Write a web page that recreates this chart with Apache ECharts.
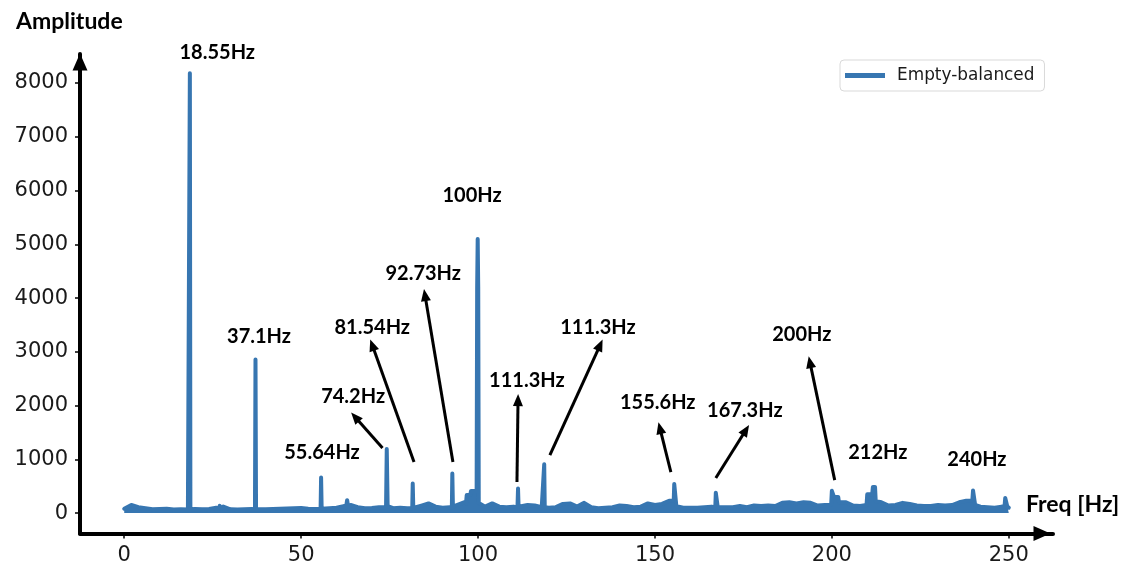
<!DOCTYPE html>
<html>
<head>
<meta charset="utf-8">
<script src="https://cdn.jsdelivr.net/npm/echarts@6/dist/echarts.min.js"></script>
<style>
  html, body { margin: 0; padding: 0; background: #fff; }
  #chart { width: 1121px; height: 570px; }
</style>
</head>
<body>
<div id="chart"></div>
<script>
// Spectrum of the empty, balanced rig: broadband floor sampled every 2 Hz from 0 Hz
const noiseStartHz = 0;
const noiseStepHz = 2;
const noiseFloor = [
  80, 150, 110, 90, 70, 75, 80, 65, 70, 65,
  75, 70, 75, 100, 120, 70, 65, 70, 75, 70,
  70, 75, 80, 85, 90, 95, 80, 75, 80, 90,
  100, 130, 150, 110, 90, 95, 110, 120, 90, 100,
  90, 95, 140, 180, 120, 100, 110, 150, 200, 280,
  200, 120, 180, 120, 110, 120, 130, 150, 140, 110,
  100, 110, 170, 180, 120, 190, 110, 90, 100, 110,
  140, 130, 110, 120, 180, 150, 170, 230, 130, 100,
  100, 100, 110, 120, 120, 110, 110, 130, 110, 140,
  130, 140, 130, 190, 200, 180, 200, 190, 140, 150,
  200, 280, 200, 140, 130, 200, 250, 200, 140, 150,
  190, 170, 140, 130, 130, 150, 140, 150, 200, 230,
  150, 120, 110, 100, 120, 100
];

// Narrow spectral lines, each as [freq Hz, amplitude] points
const peakShapes = [
  [[26.8, 90], [27.0, 134], [27.4, 134], [27.6, 80]],
  [[18.4, 70], [18.55, 8180], [18.7, 70]],
  [[36.95, 70], [37.1, 2856], [37.25, 75]],
  [[55.5, 80], [55.64, 660], [55.8, 80]],
  [[62.7, 110], [63.0, 240], [63.3, 120]],
  [[74.0, 110], [74.2, 1190], [74.45, 130]],
  [[81.4, 90], [81.54, 550], [81.7, 95]],
  [[92.6, 110], [92.73, 735], [92.9, 120]],
  [[96.6, 180], [96.8, 335], [97.8, 335], [98.0, 410], [99.6, 410], [99.75, 4200], [99.9, 5100], [100.05, 4200], [100.2, 190]],
  [[111.15, 110], [111.3, 455], [111.45, 120]],
  [[118.55, 100], [118.7, 908], [118.85, 110]],
  [[154.0, 230], [155.3, 230], [155.45, 540], [155.9, 540], [156.05, 130]],
  [[167.05, 110], [167.2, 380], [167.6, 380], [167.75, 110]],
  [[199.8, 150], [200.0, 413], [200.4, 413], [200.6, 300], [201.8, 300], [202.0, 200]],
  [[209.8, 150], [210.0, 350], [211.4, 350], [211.6, 487], [212.2, 487], [212.4, 220]],
  [[239.7, 230], [239.9, 420], [240.3, 420], [240.5, 150]],
  [[248.8, 120], [249.0, 280], [249.4, 280], [249.6, 120]]
];

// Peak labels placed in data space: [text, freq, amplitude]
const peakLabels = [
  ['18.55Hz', 26.3, 8150],
  ['37.1Hz', 38.1, 3293],
  ['55.64Hz', 55.9, 1135],
  ['74.2Hz', 64.7, 2177],
  ['81.54Hz', 70.1, 3442],
  ['92.73Hz', 84.5, 4447],
  ['100Hz', 98.3, 5916],
  ['111.3Hz', 113.8, 2474],
  ['111.3Hz', 133.9, 3460],
  ['155.6Hz', 150.8, 2047],
  ['167.3Hz', 175.4, 1916],
  ['200Hz', 191.5, 3312],
  ['212Hz', 213.0, 1135],
  ['240Hz', 241.0, 1005]
];

// Pointer arrows: [tail freq, tail amp, head freq, head amp]
const pointerArrows = [
  [73.0, 1209, 65.25, 1786],
  [81.9, 949, 70.1, 3126],
  [92.9, 949, 85.0, 4056],
  [111.0, 577, 111.3, 2102],
  [120.3, 1079, 134.5, 3126],
  [154.5, 763, 151.4, 1581],
  [167.2, 651, 175.7, 1544],
  [200.8, 614, 193.8, 2809]
];

const xTicks = [0, 50, 100, 150, 200, 250];
const yTicks = [0, 1000, 2000, 3000, 4000, 5000, 6000, 7000, 8000];

// Merge the floor with the spectral lines, dropping floor samples inside a line's span
const spans = peakShapes.map(s => [s[0][0], s[s.length - 1][0]]);
const points = [];
noiseFloor.forEach((v, i) => {
  const f = noiseStartHz + i * noiseStepHz;
  if (!spans.some(([a, b]) => f >= a && f <= b)) points.push([f, v]);
});
peakShapes.forEach(s => s.forEach(p => points.push(p)));
points.sort((a, b) => a[0] - b[0]);

const blue = '#3776b1';
const labelFont = 'Lato, "Open Sans", sans-serif';
const tickFont = '"DejaVu Sans", sans-serif';
const plain = v => String(v);

const chart = echarts.init(document.getElementById('chart'), null, { renderer: 'canvas' });
chart.setOption({
  animation: false,
  backgroundColor: '#fff',
  title: [
    { text: 'Amplitude', left: 11, top: 5,
      textStyle: { fontFamily: labelFont, fontWeight: 'bold', fontSize: 23, color: '#000' } },
    { text: 'Freq [Hz]', left: 1021, top: 488,
      textStyle: { fontFamily: labelFont, fontWeight: 'bold', fontSize: 23, color: '#000' } }
  ],
  legend: {
    data: ['Empty-balanced'],
    left: 840, top: 60,
    padding: [7, 10, 7, 5],
    icon: 'rect', itemWidth: 40, itemHeight: 5,
    borderColor: '#d9d9d9', borderWidth: 1, borderRadius: 4,
    textStyle: { fontFamily: tickFont, fontSize: 16.9, color: '#1a1a1a', padding: [0, 0, 0, 7] }
  },
  grid: { left: 80, right: 68, top: 54, bottom: 36.5, containLabel: false, outerBoundsMode: 'none' },
  xAxis: {
    type: 'value', min: -12.5, max: 262.5,
    splitLine: { show: false },
    axisLine: { show: true, onZero: false, symbol: ['none', 'triangle'], symbolSize: [15, 17],
      symbolOffset: [0, -11], lineStyle: { color: '#000', width: 4 } },
    axisTick: { show: true, customValues: xTicks, length: 5, lineStyle: { color: '#000', width: 1.5 } },
    axisLabel: { customValues: xTicks, formatter: plain, margin: 12,
      fontFamily: tickFont, fontSize: 21, color: '#1a1a1a' }
  },
  yAxis: {
    type: 'value', min: -380, max: 8540,
    splitLine: { show: false },
    axisLine: { show: true, onZero: false, symbol: ['none', 'triangle'], symbolSize: [15, 17],
      symbolOffset: [0, -8], lineStyle: { color: '#000', width: 4 } },
    axisTick: { show: true, customValues: yTicks, length: 5, lineStyle: { color: '#000', width: 1.5 } },
    axisLabel: { customValues: yTicks, formatter: plain, margin: 12,
      fontFamily: tickFont, fontSize: 21, color: '#1a1a1a' }
  },
  series: [{
    name: 'Empty-balanced',
    type: 'line',
    data: points,
    symbol: 'none',
    clip: false,
    lineStyle: { color: blue, width: 4, join: 'round', cap: 'round' },
    itemStyle: { color: blue },
    areaStyle: { color: blue, opacity: 1 },
    emphasis: { disabled: true },
    markLine: {
      silent: true,
      symbol: ['none', 'triangle'],
      symbolSize: [10, 12],
      label: { show: false },
      lineStyle: { color: '#000', width: 3, type: 'solid' },
      emphasis: { disabled: true },
      data: pointerArrows.map(a => [{ coord: [a[0], a[1]] }, { coord: [a[2], a[3]] }])
    },
    markPoint: {
      silent: true,
      symbol: 'circle', symbolSize: 0,
      label: {
        show: true, position: 'inside', formatter: '{b}',
        fontFamily: labelFont, fontWeight: 'bold', fontSize: 20, color: '#000'
      },
      data: peakLabels.map((l, i) => ({
        name: l[0], coord: [l[1], l[2]],
        label: i === 0 ? { offset: [0, -22] } : {}
      }))
    }
  }]
});
</script>
</body>
</html>
